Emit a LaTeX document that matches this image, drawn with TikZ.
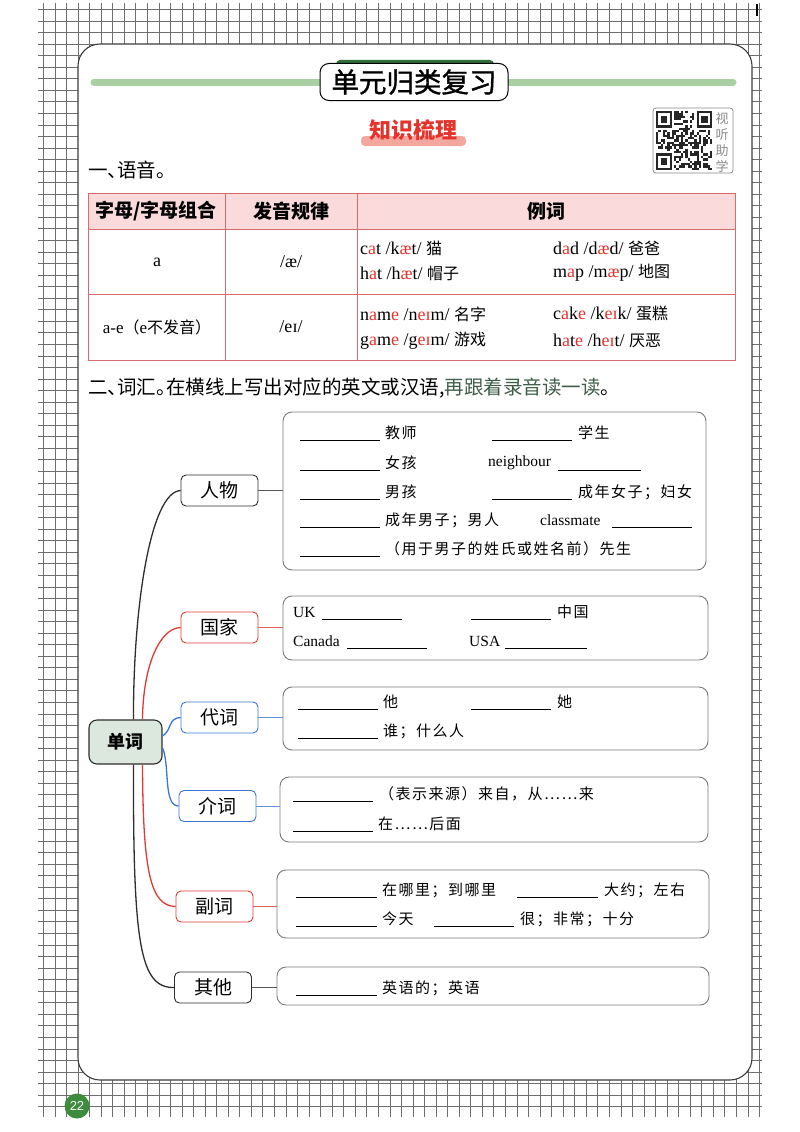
\documentclass[tikz,border=0pt]{standalone}
\usepackage{fontspec}
\setmainfont{Liberation Serif}
\newfontfamily\cjk{Noto Sans CJK SC}
\newfontfamily\cjkm{Noto Sans CJK SC}[FakeBold=1.2]
\newfontfamily\cjkh{Noto Sans CJK SC}[RawFeature=+halt]
\newfontfamily\cjkl{Noto Sans CJK SC}[LetterSpace=10]
\newfontfamily\lsans{Liberation Sans}
\usetikzlibrary{calc}
\definecolor{gridc}{HTML}{6E6E6E}
\definecolor{panelc}{HTML}{3C3C3C}
\definecolor{barg}{HTML}{A9CFA3}
\definecolor{darkg}{HTML}{2F6E3A}
\definecolor{darkg2}{HTML}{3F5E48}
\definecolor{redt}{HTML}{E5322B}
\definecolor{pinkhl}{HTML}{F4A79E}
\definecolor{tabb}{HTML}{D9696B}
\definecolor{tabh}{HTML}{FADADA}
\definecolor{mmred}{HTML}{DD3B33}
\definecolor{mmblue}{HTML}{3B77D0}
\definecolor{mmblack}{HTML}{2E2E2E}
\definecolor{boxg}{HTML}{7A7A7A}
\definecolor{dcfill}{HTML}{DCE8DE}
\definecolor{qrg}{HTML}{8A8A8A}
\definecolor{pgg}{HTML}{3D8B3D}
\newcommand\redl[1]{\textcolor{redt}{#1}}
\newcommand\tzh[1]{{\cjk\fontsize{16}{16}\selectfont #1}}
\begin{document}
\begin{tikzpicture}[x=1pt,y=-1pt,
  gridline/.style={gridc,line width=0.55pt},
  catbox/.style={draw,rounded corners=5pt,line width=0.9pt,fill=white,minimum width=77pt,minimum height=31pt,inner sep=0pt,font=\cjk\fontsize{19}{19}\selectfont},
  cbox/.style={draw=boxg,rounded corners=9pt,line width=0.9pt,inner sep=0pt},
  zh/.style={anchor=west,inner sep=0pt,font=\cjkl\fontsize{15}{15}\selectfont},
  en/.style={anchor=west,inner sep=0pt,font=\fontsize{15.5}{16}\selectfont},
  blank/.style={line width=0.6pt,black},
  tb/.style={anchor=west,inner sep=0pt,font=\fontsize{18}{18}\selectfont},
  tbc/.style={inner sep=0pt,font=\fontsize{18}{18}\selectfont},
  th/.style={inner sep=0pt,font=\cjk\bfseries\fontsize{19}{19}\selectfont},
  branch/.style={line width=1.3pt},
  stub/.style={line width=0.9pt}
]
\useasboundingbox (0,0) rectangle (800,1132);
\fill[white] (0,0) rectangle (800,1132);
% grid background
\foreach \i in {0,...,62} \draw[gridline] ({43.3+11.55*\i},3) -- ({43.3+11.55*\i},1117);
\foreach \j in {0,...,95} \draw[gridline] (38,{9.3+11.55*\j}) -- (762,{9.3+11.55*\j});
\draw[black,line width=1.5pt] (757,4) -- (757,16);
% panel
\draw[panelc,line width=1.1pt,fill=white,rounded corners=22pt] (78,44) rectangle (752,1080);
% title
\draw[barg,line width=7pt,line cap=round] (94,82) -- (733,82);
\fill[darkg,rounded corners=4pt] (336,60) rectangle (494,74);
\node[draw,line width=1pt,fill=white,rounded corners=9pt,minimum width=188pt,minimum height=37pt,inner sep=0pt,font=\cjkm\fontsize{27.5}{27.5}\selectfont] (title) at (414,82) {单元归类复习};
\fill[pinkhl,rounded corners=4pt] (361,136) rectangle (466,146);
\node[inner sep=0pt,text=redt,font=\cjk\bfseries\fontsize{22}{22}\selectfont] (zhishi) at (413,130) {知识梳理};
% QR code
\draw[qrg,line width=0.8pt,rounded corners=3pt] (653,108) rectangle (733,173);
\pgfmathsetseed{7}
\foreach \r in {0,...,24}{\foreach \c in {0,...,24}{
  \pgfmathtruncatemacro\inf{((\r<8)&&(\c<8))||((\r<8)&&(\c>16))||((\r>16)&&(\c<8))}
  \pgfmathsetmacro\v{rnd}
  \ifnum\inf=0 \ifdim\v pt>0.5pt \fill[black!85] ({656+2.25*\c},{111+2.36*\r}) rectangle ++(2.25,2.36);\fi\fi
}}
\foreach \fx/\fy in {0/0,18/0,0/18}{
  \fill[black!85] ({656+2.25*\fx},{111+2.36*\fy}) rectangle ++(15.75,16.52);
  \fill[white] ({656+2.25*(\fx+1)},{111+2.36*(\fy+1)}) rectangle ++(11.25,11.8);
  \fill[black!85] ({656+2.25*(\fx+2)},{111+2.36*(\fy+2)}) rectangle ++(6.75,7.08);
}
\foreach \t/\yy [count=\k] in {视/119,听/135,助/151,学/166}
  \node[inner sep=0pt,text=qrg,font=\cjk\fontsize{13}{13}\selectfont] (v\k) at (722,\yy) {\t};
% section 1
\node[anchor=west,inner sep=0pt,font=\cjk\fontsize{19.5}{19.5}\selectfont] (s1) at (88,170) {一{\cjkh 、}语音{\cjkh 。}};
% table
\draw[tabb,fill=tabh,line width=0.9pt] (88,193) rectangle (735,229);
\draw[tabb,line width=0.9pt] (88,193) rectangle (735,360);
\draw[tabb,line width=0.9pt] (88,294) -- (735,294);
\draw[tabb,line width=0.9pt] (225,193) -- (225,360);
\draw[tabb,line width=0.9pt] (357,193) -- (357,360);
\node[th] (h1) at (156,211) {字母/字母组合};
\node[th] (h2) at (291,211) {发音规律};
\node[th] (h3) at (546,211) {例词};
\node[tbc] (c1) at (157,262) {a};
\node[tbc] (c2) at (291,262) {/æ/};
\node[inner sep=0pt,font=\fontsize{17}{17}\selectfont] (c3) at (157,327) {a-e{\cjk\fontsize{16}{16}\selectfont （}e{\cjk\fontsize{16}{16}\selectfont 不发音）}};
\node[tbc] (c4) at (291,327) {/e\kern0.5pt ɪ/};
\node[tb] (w1) at (360,248) {c\redl{a}t /k\redl{æ}t/ \tzh{猫}};
\node[tb] (w2) at (360,273) {h\redl{a}t /h\redl{æ}t/ \tzh{帽子}};
\node[tb] (w3) at (553,248) {d\redl{a}d /d\redl{æ}d/ \tzh{爸爸}};
\node[tb] (w4) at (553,273) {m\redl{a}p /m\redl{æ}p/ \tzh{地图}};
\node[tb] (w5) at (360,314) {n\redl{a}m\redl{e} /n\redl{eɪ}m/ \tzh{名字}};
\node[tb] (w6) at (360,341) {g\redl{a}m\redl{e} /g\redl{eɪ}m/ \tzh{游戏}};
\node[tb] (w7) at (553,314) {c\redl{a}k\redl{e} /k\redl{eɪ}k/ \tzh{蛋糕}};
\node[tb] (w8) at (553,341) {h\redl{a}t\redl{e} /h\redl{eɪ}t/ \tzh{厌恶}};
% section 2
\node[anchor=west,inner sep=0pt,font=\cjk\fontsize{19.5}{19.5}\selectfont] (s2) at (88,388) {二{\cjkh 、}词汇{\cjkh 。}在横线上写出对应的英文或汉语,\textcolor{darkg2}{再跟着录音读一读}。};
% mind map nodes
\node[draw=mmblack,fill=dcfill,rounded corners=8pt,line width=1.1pt,minimum width=73pt,minimum height=44pt,inner sep=0pt,font=\cjk\bfseries\fontsize{18}{18}\selectfont] (danci) at (125.5,742) {单词};
\node[catbox,draw=mmblack] (renwu) at (219.5,490.5) {人物};
\node[catbox,draw=mmred] (guojia) at (219.5,627.5) {国家};
\node[catbox,draw=mmblue] (daici) at (219.5,717.5) {代词};
\node[catbox,draw=mmblue] (jieci) at (217.5,806) {介词};
\node[catbox,draw=mmred] (fuci) at (214.5,906.5) {副词};
\node[catbox,draw=mmblack] (qita) at (213,987.5) {其他};
\node[cbox,minimum width=423pt,minimum height=158pt] (b1) at (494.5,491) {};
\node[cbox,minimum width=425pt,minimum height=64pt] (b2) at (495.5,628) {};
\node[cbox,minimum width=425pt,minimum height=63pt] (b3) at (495.5,718.5) {};
\node[cbox,minimum width=428pt,minimum height=65pt] (b4) at (494,809.5) {};
\node[cbox,minimum width=432pt,minimum height=68pt] (b5) at (493,904) {};
\node[cbox,minimum width=432pt,minimum height=38pt] (b6) at (493,986) {};
% stubs
\draw[stub,mmblack!80] (renwu.east) -- (renwu.east -| b1.west);
\draw[stub,mmred!80] (guojia.east) -- (guojia.east -| b2.west);
\draw[stub,mmblue!80] (daici.east) -- (daici.east -| b3.west);
\draw[stub,mmblue!80] (jieci.east) -- (jieci.east -| b4.west);
\draw[stub,mmred!80] (fuci.east) -- (fuci.east -| b5.west);
\draw[stub,mmblack!80] (qita.east) -- (qita.east -| b6.west);
% branches
\draw[branch,mmblack] ([xshift=8pt]danci.north) .. controls (133,610) and (150,492) .. (renwu.west);
\draw[branch,mmred] ([xshift=17pt]danci.north) .. controls (143,665) and (160,628) .. (guojia.west);
\draw[branch,mmblue] ([yshift=6pt]danci.east) .. controls (172,730) and (168,718) .. (daici.west);
\draw[branch,mmblue] ([yshift=-6pt]danci.east) .. controls (170,765) and (163,806) .. (jieci.west);
\draw[branch,mmred] ([xshift=17pt]danci.south) .. controls (143,870) and (150,906) .. (fuci.west);
\draw[branch,mmblack] ([xshift=8pt]danci.south) .. controls (133,945) and (140,988) .. (qita.west);
% content: people
\draw[blank] (300,440) -- (380,440); \node[zh] (p1) at (385,433) {教师};
\draw[blank] (492,440) -- (572,440); \node[zh] (p2) at (578,433) {学生};
\draw[blank] (300,470) -- (380,470); \node[zh] (p3) at (385,463) {女孩};
\node[en] (p4) at (488,463) {neighbour}; \draw[blank] (558,470) -- (641,470);
\draw[blank] (300,499) -- (380,499); \node[zh] (p5) at (385,492) {男孩};
\draw[blank] (492,499) -- (572,499); \node[zh] (p6) at (578,492) {成年女子；妇女};
\draw[blank] (300,527) -- (380,527); \node[zh] (p7) at (385,520) {成年男子；男人};
\node[en] (p8) at (540,520) {classmate}; \draw[blank] (612,527) -- (692,527);
\draw[blank] (300,556) -- (380,556); \node[zh] (p9) at (385,549) {（用于男子的姓氏或姓名前）先生};
% countries
\node[en] (g1) at (293,612) {UK}; \draw[blank] (322,619) -- (402,619);
\draw[blank] (471,619) -- (551,619); \node[zh] (g2) at (557,612) {中国};
\node[en] (g3) at (293,641) {Canada}; \draw[blank] (347,648) -- (427,648);
\node[en] (g4) at (469,641) {USA}; \draw[blank] (505,648) -- (587,648);
% pronouns
\draw[blank] (298,709) -- (378,709); \node[zh] (d1) at (383,702) {他};
\draw[blank] (471,709) -- (551,709); \node[zh] (d2) at (557,702) {她};
\draw[blank] (298,738) -- (378,738); \node[zh] (d3) at (383,731) {谁；什么人};
% prepositions
\draw[blank] (293,801) -- (373,801); \node[zh] (j1) at (379,794) {（表示来源）来自，从……来};
\draw[blank] (293,831) -- (373,831); \node[zh] (j2) at (378,824) {在……后面};
% adverbs
\draw[blank] (296,897) -- (377,897); \node[zh] (f1) at (382,890) {在哪里；到哪里};
\draw[blank] (517,897) -- (598,897); \node[zh] (f2) at (604,890) {大约；左右};
\draw[blank] (296,926) -- (377,926); \node[zh] (f3) at (382,919) {今天};
\draw[blank] (434,926) -- (514,926); \node[zh] (f4) at (520,919) {很；非常；十分};
% others
\draw[blank] (296,995) -- (377,995); \node[zh] (q1) at (382,988) {英语的；英语};
% page number
\node[circle,fill=pgg,minimum size=25pt,inner sep=0pt,text=white,font=\lsans\fontsize{13}{13}\selectfont] (pg) at (77,1106) {22};
\end{tikzpicture}
\end{document}
